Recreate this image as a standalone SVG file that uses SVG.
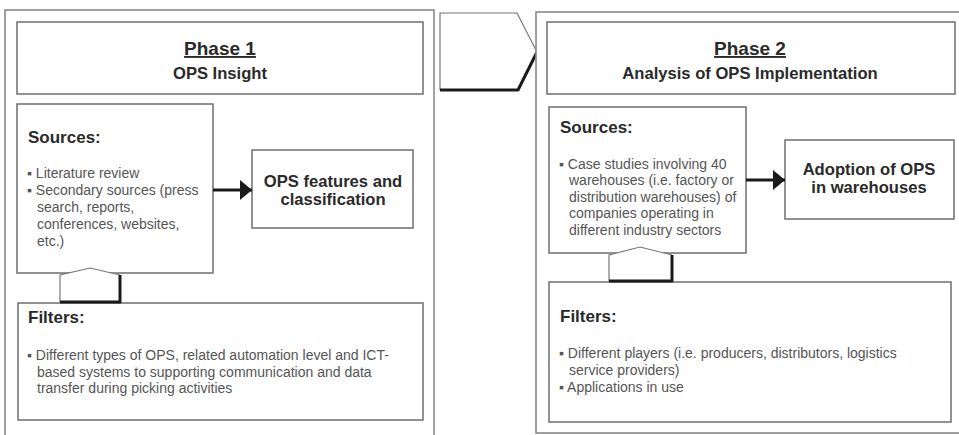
<svg xmlns="http://www.w3.org/2000/svg" width="959" height="435" viewBox="0 0 959 435">
  <defs>
    <style>
      .panel { fill: #fff; stroke: #8a8a8a; stroke-width: 1.6; }
      .box { fill: #fff; stroke: #6e6e6e; stroke-width: 1.5; }
      .thin { fill: none; stroke: #777; stroke-width: 1.2; }
      .shadow { fill: none; stroke: #1a1a1a; stroke-width: 3; stroke-linejoin: round; }
      .title { font-family: "Liberation Sans", Arial, sans-serif; font-weight: bold; fill: #2a2a2a; text-anchor: middle; }
      .head { font-family: "Liberation Sans", Arial, sans-serif; font-weight: bold; font-size: 17px; fill: #2a2a2a; }
      .item { font-family: "Liberation Sans", Arial, sans-serif; font-size: 14px; fill: #555; }
      .result { font-family: "Liberation Sans", Arial, sans-serif; font-weight: bold; font-size: 16.6px; fill: #2a2a2a; text-anchor: middle; }
      .flow { stroke: #1a1a1a; stroke-width: 3.2; fill: none; }
    </style>
    <marker id="head" viewBox="0 0 12 20" refX="12" refY="10" markerWidth="12" markerHeight="20" markerUnits="userSpaceOnUse" orient="auto">
      <path d="M0,0 L12,10 L0,20 Z" fill="#1a1a1a"/>
    </marker>
  </defs>

  <rect width="959" height="435" fill="#fff"/>

  <!-- Phase 1 panel -->
  <g id="phase1-panel">
    <rect class="panel" x="5" y="10" width="429" height="440"/>
  </g>
  <g id="phase1-header">
    <rect class="box" x="17" y="22" width="406" height="72"/>
    <text class="title" x="220" y="55" font-size="19" text-decoration="underline">Phase 1</text>
    <text class="title" x="220" y="79" font-size="16.6">OPS Insight</text>
  </g>
  <g id="phase1-sources">
    <rect class="box" x="17" y="104" width="196" height="169"/>
    <text class="head" x="28" y="143">Sources:</text>
    <text class="item" x="27" y="178">▪ Literature review</text>
    <text class="item" x="27" y="195">▪ Secondary sources (press</text>
    <text class="item" x="37" y="212">search, reports,</text>
    <text class="item" x="37" y="229">conferences, websites,</text>
    <text class="item" x="37" y="246">etc.)</text>
  </g>
  <g id="phase1-result">
    <rect class="box" x="252" y="150" width="161" height="78"/>
    <text class="result" x="333" y="187">OPS features and</text>
    <text class="result" x="333" y="205">classification</text>
  </g>
  <g id="phase1-filters">
    <rect class="box" x="18" y="303" width="405" height="117"/>
    <text class="head" x="28" y="323">Filters:</text>
    <text class="item" x="27" y="360">▪ Different types of OPS, related automation level and ICT-</text>
    <text class="item" x="37" y="377">based systems to supporting communication and data</text>
    <text class="item" x="37" y="393">transfer during picking activities</text>
  </g>
  <g id="phase1-filter-arrow">
    <path fill="#fff" stroke="none" d="M60,302 L60,275 L90,268 L120,275 L120,302 Z"/>
    <path class="thin" d="M60,302 L60,275 L90,268 L120,275"/>
    <path class="shadow" d="M120,275 L120,302 L60,302"/>
  </g>

  <!-- Transition chevron -->
  <g id="transition">
    <path fill="#fff" stroke="none" d="M440,13 L517,13 L537,52 L518,90 L440,90 Z"/>
    <path class="thin" d="M440,90 L440,13 L517,13 L537,52"/>
    <path class="shadow" d="M537,52 L518,90 L440,90"/>
  </g>

  <!-- Phase 2 panel -->
  <g id="phase2-panel">
    <rect class="panel" x="536" y="12" width="440" height="421"/>
  </g>
  <g id="phase2-header">
    <rect class="box" x="547" y="22" width="408" height="72"/>
    <text class="title" x="750" y="55" font-size="19" text-decoration="underline">Phase 2</text>
    <text class="title" x="750" y="79" font-size="16.6">Analysis of OPS Implementation</text>
  </g>
  <g id="phase2-sources">
    <rect class="box" x="549" y="107" width="197" height="146"/>
    <text class="head" x="560" y="133">Sources:</text>
    <text class="item" x="559" y="169">▪ Case studies involving 40</text>
    <text class="item" x="569" y="185">warehouses (i.e. factory or</text>
    <text class="item" x="569" y="202">distribution warehouses) of</text>
    <text class="item" x="569" y="218">companies operating in</text>
    <text class="item" x="569" y="235">different industry sectors</text>
  </g>
  <g id="phase2-result">
    <rect class="box" x="785" y="140" width="169" height="79"/>
    <text class="result" x="869" y="175">Adoption of OPS</text>
    <text class="result" x="869" y="193">in warehouses</text>
  </g>
  <g id="phase2-filters">
    <rect class="box" x="549" y="282" width="402" height="140"/>
    <text class="head" x="560" y="322">Filters:</text>
    <text class="item" x="559" y="358">▪ Different players (i.e. producers, distributors, logistics</text>
    <text class="item" x="569" y="375">service providers)</text>
    <text class="item" x="559" y="392">▪ Applications in use</text>
  </g>
  <g id="phase2-filter-arrow">
    <path fill="#fff" stroke="none" d="M609,281 L609,255 L640,247 L672,255 L672,281 Z"/>
    <path class="thin" d="M609,281 L609,255 L640,247 L672,255"/>
    <path class="shadow" d="M672,255 L672,281 L609,281"/>
  </g>

  <!-- Connectors -->
  <g id="connectors">
    <line class="flow" x1="213" y1="190" x2="252" y2="190" marker-end="url(#head)"/>
    <line class="flow" x1="746" y1="180" x2="785" y2="180" marker-end="url(#head)"/>
  </g>
</svg>
